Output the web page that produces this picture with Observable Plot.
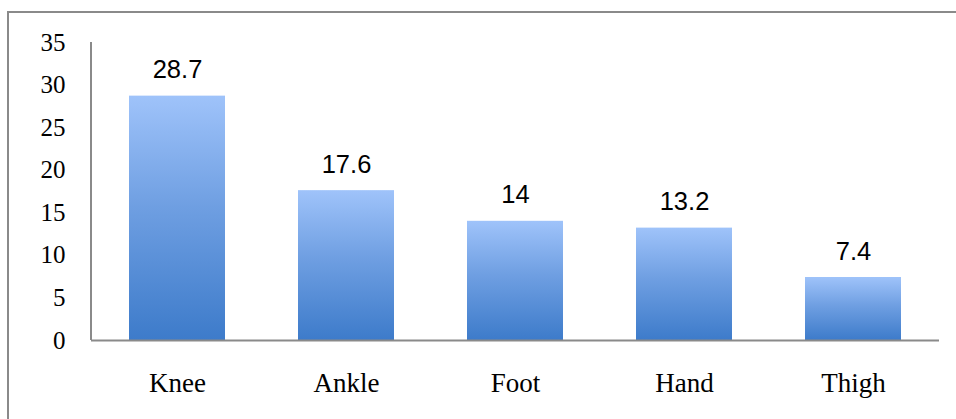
<!DOCTYPE html>
<html>
<head>
<meta charset="utf-8">
<script src="https://cdn.jsdelivr.net/npm/d3@7"></script>
<script src="https://cdn.jsdelivr.net/npm/@observablehq/plot@0.6"></script>
<style>
  html, body { margin: 0; padding: 0; background: #fff; }
  #wrap { position: relative; width: 956px; height: 419px; overflow: hidden; }
  #border { position: absolute; left: 7px; top: 11px; right: -10px; bottom: -10px;
            border-top: 2px solid #8a8a8a; border-left: 2px solid #8a8a8a; }
  #chart { position: absolute; left: 0; top: 0; }
</style>
</head>
<body>
<div id="wrap"><div id="border"></div><div id="chart"></div></div>
<script>
const categories = ["Knee", "Ankle", "Foot", "Hand", "Thigh"];
const values = [28.7, 17.6, 14, 13.2, 7.4];
const valueLabels = ["28.7", "17.6", "14", "13.2", "7.4"];
const yTicks = [0, 5, 10, 15, 20, 25, 30, 35];

const data = categories.map((c, i) => ({category: c, value: values[i], label: valueLabels[i]}));

const yAxisLine = (index, scales, values, dims) => {
  const ns = "http://www.w3.org/2000/svg";
  const line = document.createElementNS(ns, "line");
  line.setAttribute("x1", dims.marginLeft);
  line.setAttribute("x2", dims.marginLeft);
  line.setAttribute("y1", scales.y(0));
  line.setAttribute("y2", scales.y(35));
  line.setAttribute("stroke", "#8a8a8a");
  line.setAttribute("stroke-width", 2);
  return line;
};

const chart = Plot.plot({
  width: 956,
  height: 419,
  marginLeft: 91,
  marginRight: 17,
  marginTop: 42,
  marginBottom: 79,
  style: {background: "transparent", overflow: "visible"},
  x: {domain: categories, paddingInner: 0.43, paddingOuter: 0.215, label: null},
  y: {domain: [0, 35], label: null},
  marks: [
    Plot.barY(data, {x: "category", y: "value", fill: "url(#barGrad)",
      style: "filter: drop-shadow(0px 0px 2px rgba(230,215,190,0.6))"}),
    Plot.ruleY([0], {stroke: "#8a8a8a", strokeWidth: 2}),
    yAxisLine,
    Plot.axisY({ticks: yTicks, tickSize: 0, tickPadding: 26, fontSize: 25,
      fontFamily: "Liberation Serif", fill: "#000", label: null}),
    Plot.axisX({tickSize: 0, tickPadding: 32, fontSize: 27,
      fontFamily: "Liberation Serif", fill: "#000", label: null}),
    Plot.text(data, {x: "category", y: "value", text: "label", dy: -26,
      fontSize: 25.5, fontFamily: "Liberation Sans", fill: "#000"})
  ]
});

const ns = "http://www.w3.org/2000/svg";
const defs = document.createElementNS(ns, "defs");
defs.innerHTML = `<linearGradient id="barGrad" x1="0" y1="0" x2="0" y2="1">
  <stop offset="0" stop-color="#9fc3fa"/>
  <stop offset="0.45" stop-color="#6f9fe2"/>
  <stop offset="1" stop-color="#3d7bca"/>
</linearGradient>`;
chart.insertBefore(defs, chart.firstChild);
document.getElementById("chart").appendChild(chart);
</script>
</body>
</html>
